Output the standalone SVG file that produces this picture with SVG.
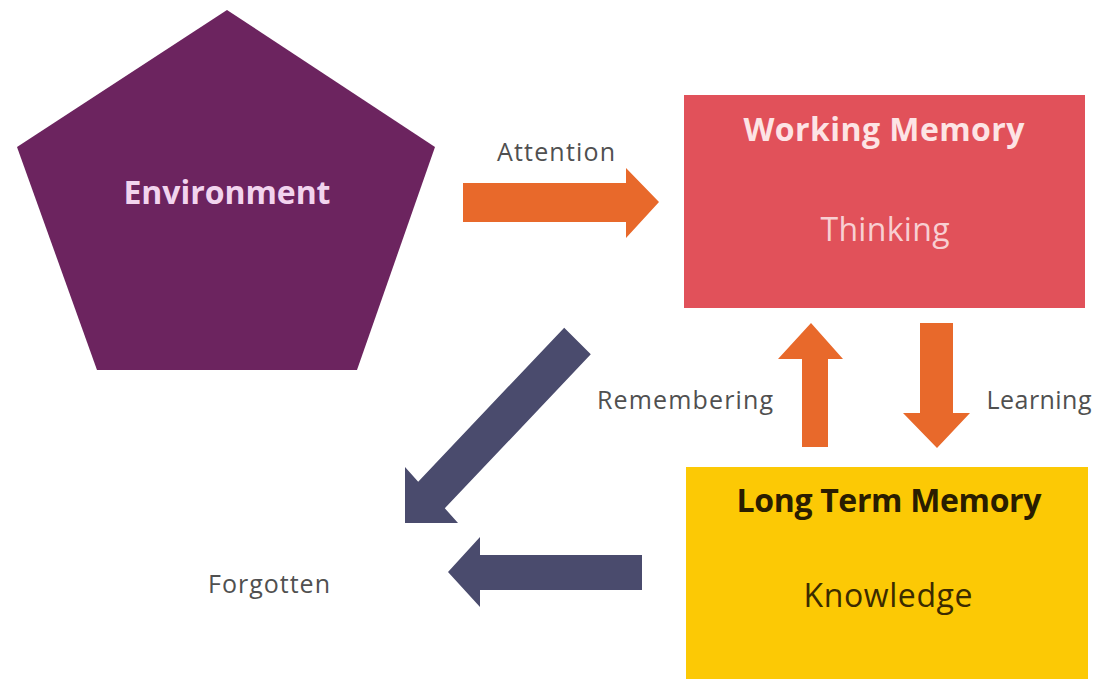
<svg xmlns="http://www.w3.org/2000/svg" width="1101" height="679" viewBox="0 0 1101 679">
  <style>
    text { font-family: "Open Sans", "Liberation Sans", sans-serif; text-anchor: middle; }
    .lbl { font-size: 25px; fill: #505050; }
    .title { font-size: 32px; font-weight: bold; }
    .sub { font-size: 32px; }
    .orange { fill: #e8692b; }
    .slate { fill: #4a4b6d; }
  </style>
  <rect x="0" y="0" width="1101" height="679" fill="#ffffff"/>
  <g id="environment">
    <polygon points="227,10 435,147 357,370 97,370 17,147" fill="#6c245f"/>
    <text class="title" x="227" y="204" fill="#f2d4ee" textLength="207">Environment</text>
  </g>
  <g id="working-memory">
    <rect x="684" y="95" width="401" height="213" fill="#e1515a"/>
    <text class="title" x="884" y="141" fill="#fde4e5" textLength="281">Working Memory</text>
    <text class="sub" x="885" y="241" fill="#f8cfd2" textLength="129">Thinking</text>
  </g>
  <g id="long-term-memory">
    <rect x="686" y="467" width="402" height="212" fill="#fcc905"/>
    <text class="title" x="889" y="512" font-size="31" fill="#2a1d00" textLength="305">Long Term Memory</text>
    <text class="sub" x="888" y="607" fill="#3b2b00" textLength="169">Knowledge</text>
  </g>
  <g id="forgotten">
    <text class="lbl" x="269" y="593" textLength="122">Forgotten</text>
  </g>
  <g id="connectors">
    <polygon class="orange" points="463,183 626,183 626,168 659,202 626,238 626,222 463,222"/>
    <text class="lbl" x="556" y="161" textLength="118">Attention</text>
    <polygon class="orange" points="802,447 802,359 778,359 811,323 843,359 828,359 828,447"/>
    <text class="lbl" x="685" y="409" textLength="176">Remembering</text>
    <polygon class="orange" points="920,323 953,323 953,413 970,413 937,448 903,413 920,413"/>
    <text class="lbl" x="1039" y="409" textLength="105">Learning</text>
    <polygon class="slate" points="405,523 458,523 444.8,508.3 590.8,354.3 564.2,327.7 418.2,481.7 405,467"/>
    <polygon class="slate" points="642,555 642,590 480,590 480,607 448,572 480,537 480,555"/>
  </g>
</svg>
